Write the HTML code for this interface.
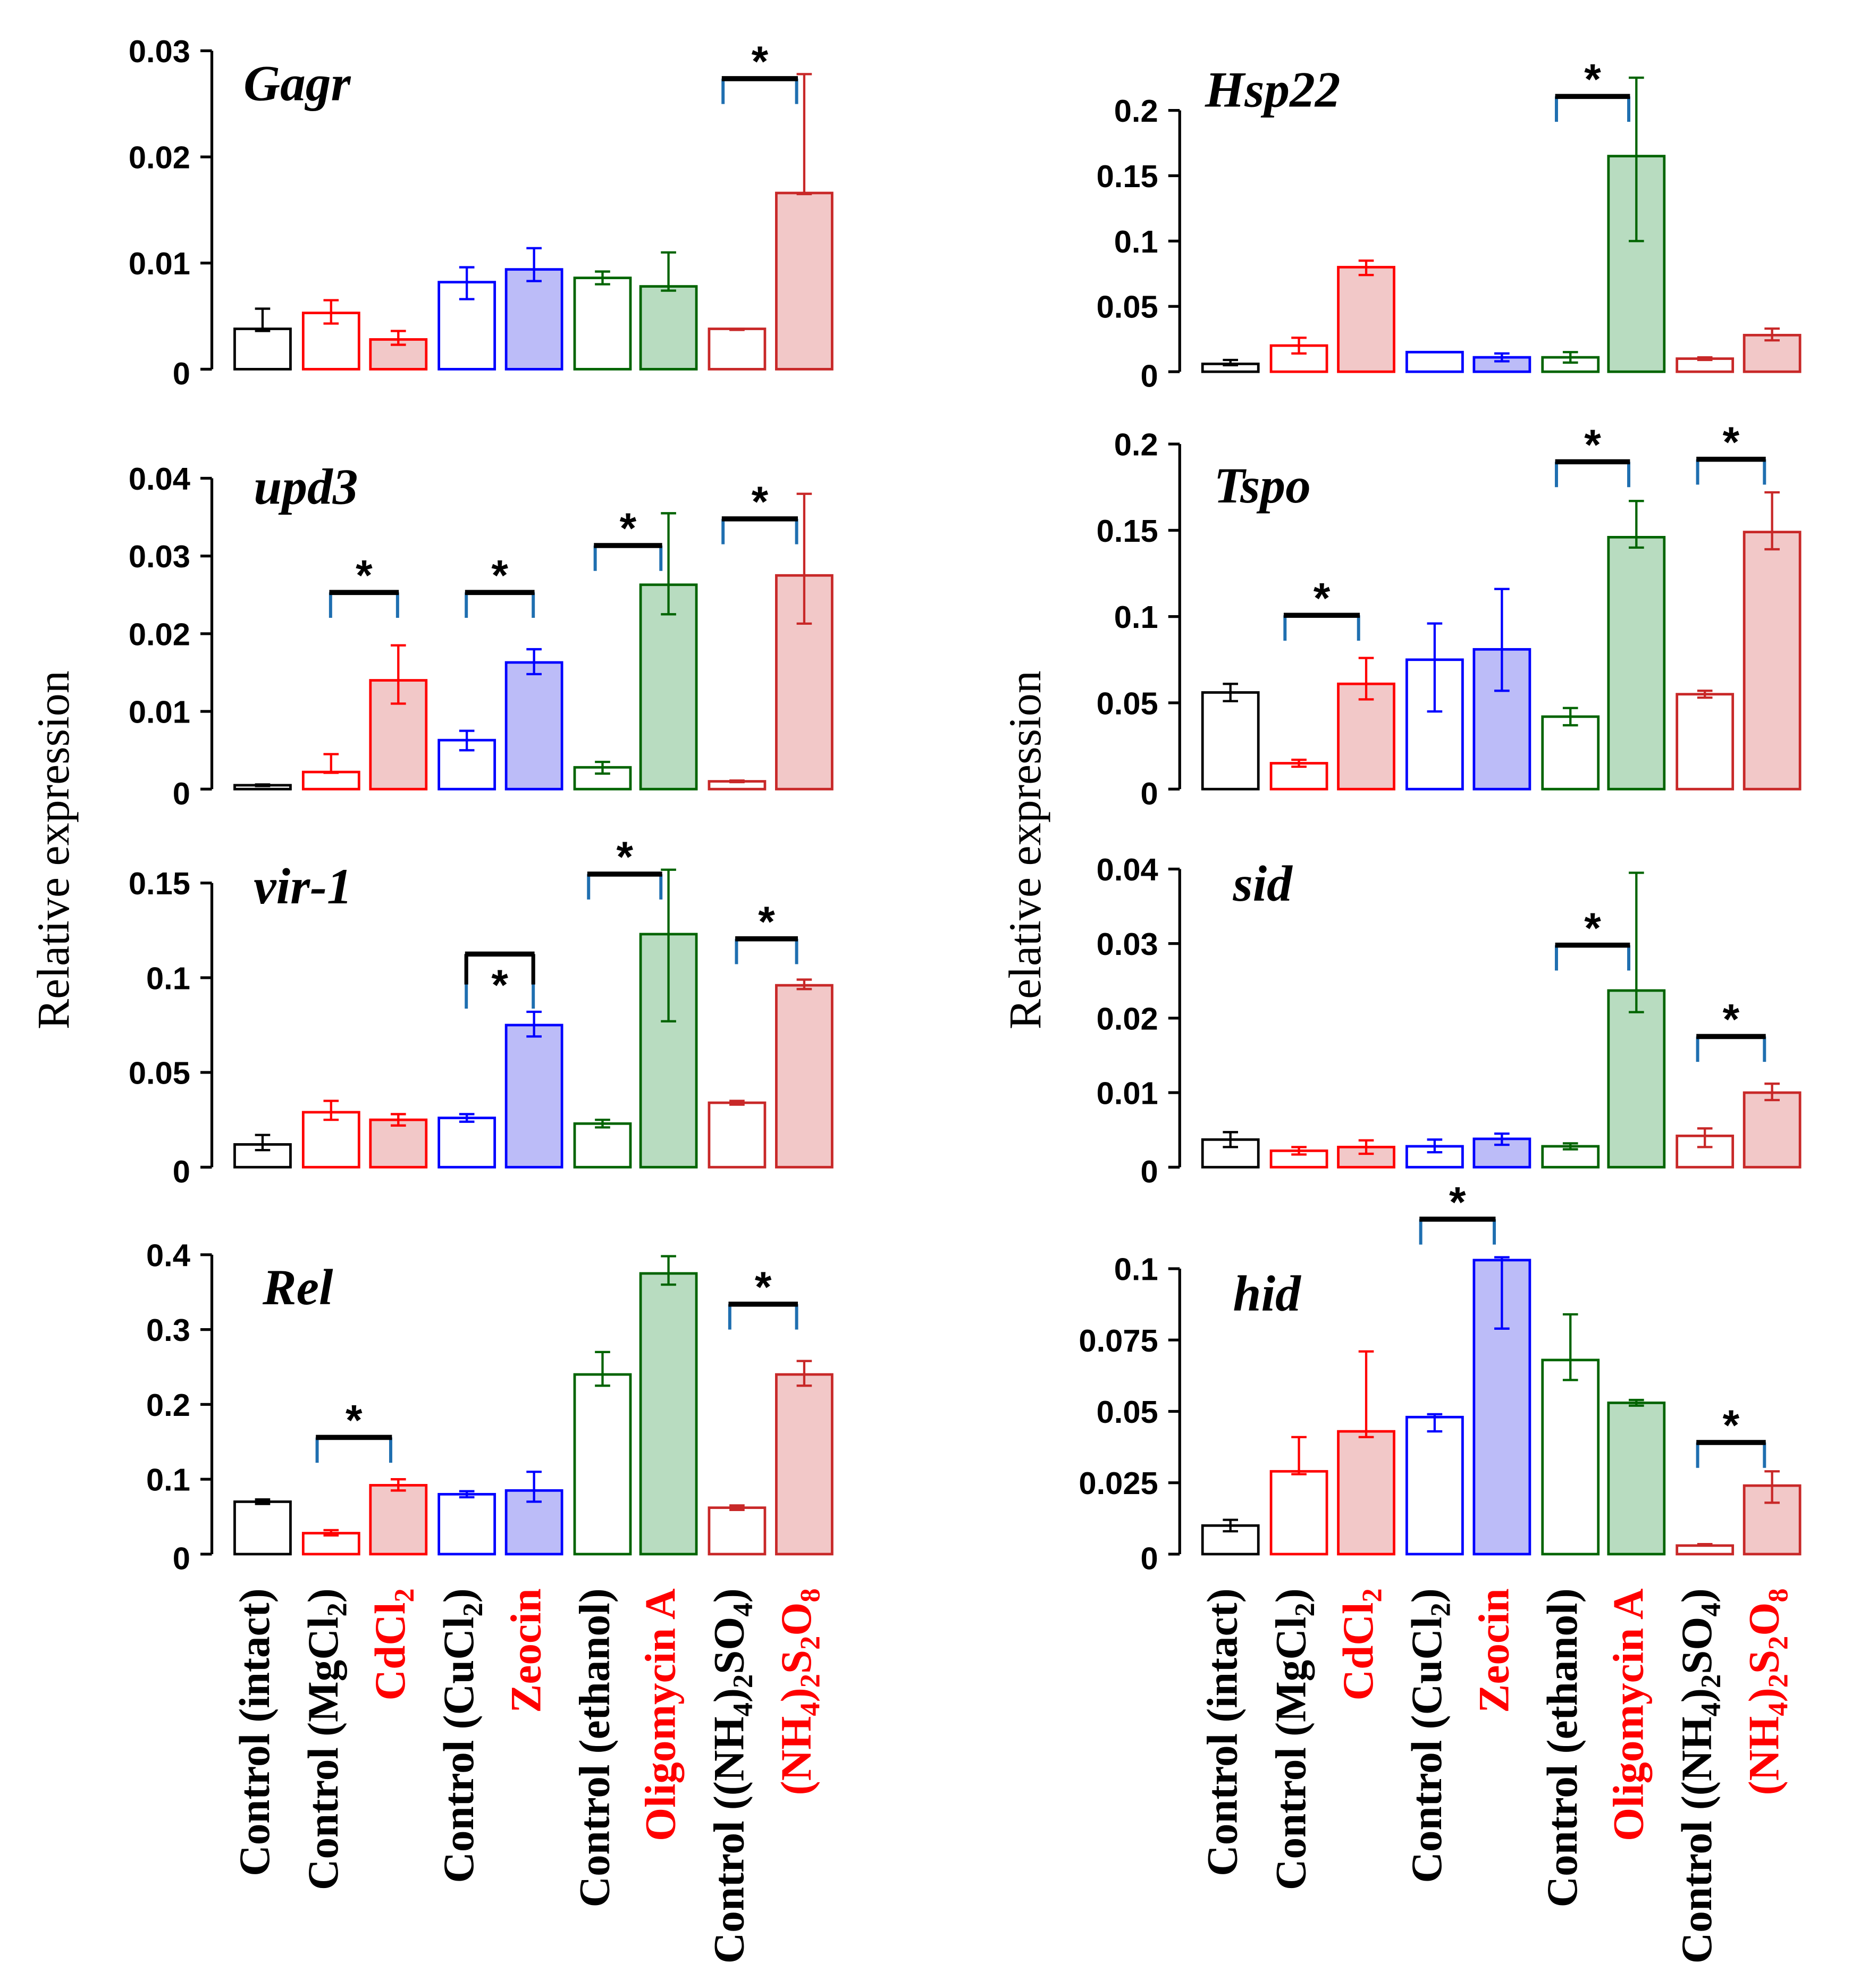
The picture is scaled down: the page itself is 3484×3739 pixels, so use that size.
<!DOCTYPE html>
<html><head><meta charset="utf-8"><style>
html,body{margin:0;padding:0;background:#fff;}
svg{display:block;}
.tick{font-family:"Liberation Sans Narrow","Liberation Sans",sans-serif;font-weight:bold;font-size:25px;fill:#000;}
.gene{font-family:"Liberation Serif",serif;font-style:italic;font-weight:bold;font-size:40px;fill:#000;}
.xl{font-family:"Liberation Serif",serif;font-weight:bold;font-size:34px;}
.yt{font-family:"Liberation Serif",serif;font-size:36px;fill:#000;}
.star{font-family:"Liberation Sans",sans-serif;font-weight:bold;font-size:34px;fill:#000;}
</style></head><body>
<svg id="fig" width="3484" height="3739" viewBox="0 0 1460 1567" preserveAspectRatio="none" xmlns="http://www.w3.org/2000/svg">
<text class="yt" transform="translate(54,670) rotate(-90)" text-anchor="middle">Relative expression</text>
<text class="yt" transform="translate(820,670) rotate(-90)" text-anchor="middle">Relative expression</text>
</svg>
<script>
// Shared categories
const categories = ["Control (intact)","Control (MgCl2)","CdCl2","Control (CuCl2)","Zeocin","Control (ethanol)","Oligomycin A","Control ((NH4)2SO4)","(NH4)2S2O8"];
// Panel values (mean, error low, error high)
const gagrMean = [0.0038,0.0053,0.0028,0.0082,0.0094,0.0086,0.0078,0.0038,0.0166];
const gagrLo   = [0.0036,0.0043,0.0023,0.0066,0.0083,0.0080,0.0074,0.0037,0.0165];
const gagrHi   = [0.0057,0.0065,0.0036,0.0096,0.0114,0.0092,0.0110,0.0038,0.0278];
const hspMean = [0.006,0.020,0.080,0.015,0.011,0.011,0.165,0.010,0.028];
const hspLo   = [0.005,0.014,0.074,0.015,0.008,0.007,0.100,0.009,0.024];
const hspHi   = [0.009,0.026,0.085,0.015,0.014,0.015,0.225,0.011,0.033];
const updMean = [0.0005,0.0022,0.0140,0.0063,0.0163,0.0028,0.0263,0.0010,0.0275];
const updLo   = [0.0004,0.0021,0.0110,0.0050,0.0148,0.0020,0.0225,0.0009,0.0213];
const updHi   = [0.0006,0.0045,0.0185,0.0075,0.0180,0.0035,0.0355,0.0011,0.0380];
const tspoMean = [0.056,0.015,0.061,0.075,0.081,0.042,0.146,0.055,0.149];
const tspoLo   = [0.051,0.013,0.052,0.045,0.057,0.037,0.140,0.053,0.139];
const tspoHi   = [0.061,0.017,0.076,0.096,0.116,0.047,0.167,0.057,0.172];
const virMean = [0.012,0.029,0.025,0.026,0.075,0.023,0.123,0.034,0.096];
const virLo   = [0.009,0.025,0.022,0.024,0.069,0.021,0.077,0.033,0.094];
const virHi   = [0.017,0.035,0.028,0.028,0.082,0.025,0.157,0.035,0.099];
const sidMean = [0.0037,0.0022,0.0027,0.0028,0.0038,0.0028,0.0237,0.0042,0.0100];
const sidLo   = [0.0027,0.0017,0.0018,0.0020,0.0030,0.0024,0.0208,0.0027,0.0090];
const sidHi   = [0.0047,0.0027,0.0036,0.0037,0.0045,0.0032,0.0395,0.0052,0.0112];
const relMean = [0.070,0.028,0.092,0.080,0.085,0.240,0.375,0.062,0.240];
const relLo   = [0.067,0.025,0.085,0.076,0.070,0.225,0.360,0.059,0.225];
const relHi   = [0.073,0.032,0.100,0.084,0.110,0.270,0.398,0.065,0.258];
const hidMean = [0.010,0.029,0.043,0.048,0.103,0.068,0.053,0.003,0.024];
const hidLo   = [0.008,0.028,0.041,0.043,0.079,0.061,0.052,0.003,0.018];
const hidHi   = [0.012,0.041,0.071,0.049,0.104,0.084,0.054,0.0035,0.029];
// Tick labels
const gagrTicks = ["0","0.01","0.02","0.03"];
const hspTicks = ["0","0.05","0.1","0.15","0.2"];
const updTicks = ["0","0.01","0.02","0.03","0.04"];
const tspoTicks = ["0","0.05","0.1","0.15","0.2"];
const virTicks = ["0","0.05","0.1","0.15"];
const sidTicks = ["0","0.01","0.02","0.03","0.04"];
const relTicks = ["0","0.1","0.2","0.3","0.4"];
const hidTicks = ["0","0.025","0.05","0.075","0.1"];

const NS="http://www.w3.org/2000/svg";
const svg=document.getElementById('fig');
const strokes=["#000","#f00","#f00","#00f","#00f","#006400","#006400","#c82828","#c82828"];
const fills=["#fff","#fff","#f2c8c8","#fff","#bcbcf8","#fff","#b8dcc0","#fff","#f2c8c8"];
const leftCenters=[207,261,314,368,421,475,527,581,634];
function mk(tag,attrs,parent){const e=document.createElementNS(NS,tag);for(const k in attrs)e.setAttribute(k,attrs[k]);(parent||svg).appendChild(e);return e;}

const panels=[
 {name:"gagr",gene:"Gagr",col:0,y0:291,yTop:40,max:0.03,mean:gagrMean,lo:gagrLo,hi:gagrHi,ticks:gagrTicks,gx:192,gy:67,br:[[7,8,62]]},
 {name:"hsp22",gene:"Hsp22",col:1,y0:293,yTop:87,max:0.2,mean:hspMean,lo:hspLo,hi:hspHi,ticks:hspTicks,gx:950,gy:72,br:[[5,6,76]]},
 {name:"upd3",gene:"upd3",col:0,y0:622,yTop:377,max:0.04,mean:updMean,lo:updLo,hi:updHi,ticks:updTicks,gx:200,gy:385,br:[[1.2,2.1,467],[3.2,4.1,467],[5.1,6,430],[7,8,409]]},
 {name:"tspo",gene:"Tspo",col:1,y0:622,yTop:350,max:0.2,mean:tspoMean,lo:tspoLo,hi:tspoHi,ticks:tspoTicks,gx:957,gy:384,br:[[1,2,485],[5,6,364],[7.1,8.1,362]]},
 {name:"vir1",gene:"vir-1",col:0,y0:920,yTop:696,max:0.15,mean:virMean,lo:virLo,hi:virHi,ticks:virTicks,gx:200,gy:700,br:[[3.2,4.1,752,43],[5,6,689],[7.2,8.1,740]]},
 {name:"sid",gene:"sid",col:1,y0:920,yTop:685,max:0.04,mean:sidMean,lo:sidLo,hi:sidHi,ticks:sidTicks,gx:972,gy:698,br:[[5,6,745],[7.1,8.1,817]]},
 {name:"rel",gene:"Rel",col:0,y0:1225,yTop:989,max:0.4,mean:relMean,lo:relLo,hi:relHi,ticks:relTicks,gx:207,gy:1016,br:[[1,2,1133],[7.1,8,1028]]},
 {name:"hid",gene:"hid",col:1,y0:1225,yTop:1000,max:0.1,mean:hidMean,lo:hidLo,hi:hidHi,ticks:hidTicks,gx:972,gy:1021,br:[[3,4,961],[7.1,8.1,1137]]}
];

panels.forEach(p=>{
  const off=p.col*763;
  const axX=167+off;
  const g=mk('g',{});
  
  
  const y=v=>p.y0-(v/p.max)*(p.y0-p.yTop);
  const xc=i=>{const f=Math.floor(i),r=i-f;const a=leftCenters[f],b=leftCenters[Math.min(f+1,8)];return a+(b-a)*r+off;};
  const ax=mk('line',{x1:axX,y1:p.y0,x2:axX,y2:p.yTop,stroke:'#000','stroke-width':2.2},g);
  
  
  const n=p.ticks.length;
  p.ticks.forEach((t,k)=>{
    const v=p.max*k/(n-1), yy=y(v);
    mk('line',{x1:axX-9,y1:yy,x2:axX,y2:yy,stroke:'#000','stroke-width':2.2},g);
    const tx=mk('text',{x:axX-17,y:yy+(k===0?12:9),'text-anchor':'end',class:'tick'},g);
    tx.textContent=t;
    
    
  });
  const gt=mk('text',{x:p.gx,y:p.gy+12,class:'gene'},g);
  gt.textContent=p.gene;
  
  
  p.mean.forEach((m,i)=>{
    const cx=xc(i), w=44;
    const r=mk('rect',{x:cx-w/2,y:y(m),width:w,height:p.y0-y(m),fill:fills[i],stroke:strokes[i],'stroke-width':2},g);
    
    
    const eg=mk('g',{stroke:strokes[i],'stroke-width':1.8},g);
    
    
    mk('line',{x1:cx,y1:y(p.lo[i]),x2:cx,y2:y(p.hi[i])},eg);
    mk('line',{x1:cx-6,y1:y(p.lo[i]),x2:cx+6,y2:y(p.lo[i])},eg);
    mk('line',{x1:cx-6,y1:y(p.hi[i]),x2:cx+6,y2:y(p.hi[i])},eg);
  });
  p.br.forEach(b=>{
    const xa=xc(b[0])-11, xb=xc(b[1])-6, yy=b[2], leg=b[3]||20;
    const bg=mk('g',{},g);
    
    
    mk('line',{x1:xa,y1:yy,x2:xa,y2:yy+leg,stroke:'#1f6fb0','stroke-width':2.5},bg);
    mk('line',{x1:xb,y1:yy,x2:xb,y2:yy+leg,stroke:'#1f6fb0','stroke-width':2.5},bg);
    if(b[3]){mk('line',{x1:xa,y1:yy,x2:xa,y2:yy+24,stroke:'#000','stroke-width':3},bg);mk('line',{x1:xb,y1:yy,x2:xb,y2:yy+24,stroke:'#000','stroke-width':3},bg);}
    mk('line',{x1:xa-1,y1:yy,x2:xb+1,y2:yy,stroke:'#000','stroke-width':4},bg);
    const st=mk('text',{x:(xa+xb)/2,y:b[3]?yy+36:yy-2,'text-anchor':'middle',class:'star'},bg);
    st.textContent='*';
  });
});

// X labels (rotated)
const labelHTML=[
 ['Control (intact)','#000'],
 ['Control (MgCl<tspan font-size="22" dy="7">2</tspan><tspan dy="-7">)</tspan>','#000'],
 ['CdCl<tspan font-size="22" dy="7">2</tspan>','#f00'],
 ['Control (CuCl<tspan font-size="22" dy="7">2</tspan><tspan dy="-7">)</tspan>','#000'],
 ['Zeocin','#f00'],
 ['Control (ethanol)','#000'],
 ['Oligomycin A','#f00'],
 ['Control ((NH<tspan font-size="22" dy="7">4</tspan><tspan dy="-7">)</tspan><tspan font-size="22" dy="7">2</tspan><tspan dy="-7">SO</tspan><tspan font-size="22" dy="7">4</tspan><tspan dy="-7">)</tspan>','#000'],
 ['(NH<tspan font-size="22" dy="7">4</tspan><tspan dy="-7">)</tspan><tspan font-size="22" dy="7">2</tspan><tspan dy="-7">S</tspan><tspan font-size="22" dy="7">2</tspan><tspan dy="-7">O</tspan><tspan font-size="22" dy="7">8</tspan>','#f00']
];
[0,763].forEach(off=>{
  labelHTML.forEach((l,i)=>{
    const x=leftCenters[i]+off+5;
    const t=mk('text',{transform:`translate(${x},1252) rotate(-90)`,'text-anchor':'end',class:'xl',fill:l[1]});
    t.innerHTML=l[0];
    
    
  });
});
</script>
</body></html>
